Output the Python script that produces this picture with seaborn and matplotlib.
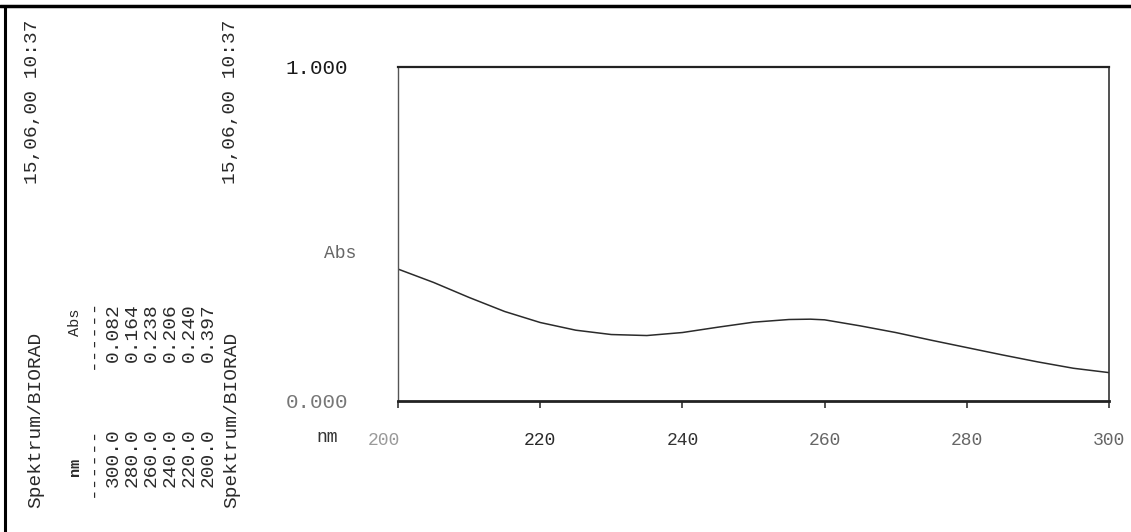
import numpy as np
import pandas as pd
import matplotlib
matplotlib.use('Agg')
import matplotlib.pyplot as plt
import matplotlib.transforms as mtransforms
from matplotlib.lines import Line2D
import seaborn as sns

wavelength = [200, 205, 210, 215, 220, 225, 230, 235, 240, 245, 250,
              255, 258, 260, 265, 270, 275, 280, 285, 290, 295, 300]
absorbance = [0.395, 0.355, 0.310, 0.268, 0.235, 0.212, 0.199, 0.196, 0.205, 0.221, 0.236,
              0.244, 0.245, 0.243, 0.225, 0.205, 0.182, 0.160, 0.138, 0.117, 0.098, 0.085]

table_nm = ['300.0', '280.0', '260.0', '240.0', '220.0', '200.0']
table_abs = ['0.082', '0.164', '0.238', '0.206', '0.240', '0.397']

x_ticks = [200, 220, 240, 260, 280, 300]
x_tick_labels = ['200', '220', '240', '260', '280', '300']
x_tick_colors = ['#9a9a9a', '#2a2a2a', '#333333', '#666666', '#666666', '#666666']
y_ticks = [0, 1]
y_tick_labels = ['0.000', '1.000']
y_tick_colors = ['#777777', '#1a1a1a']
stamp = '15,06,00 10:37'
device = 'Spektrum/BIORAD'

df = pd.DataFrame({'nm': wavelength, 'Abs': absorbance})

sns.set_style('white')
plt.rcParams['font.family'] = ['Liberation Mono', 'DejaVu Sans Mono']

W, H = 1131, 532
fig = plt.figure(figsize=(W / 100, H / 100), dpi=100)
fig.patch.set_facecolor('white')

def fx(px):
    return px / W

def fy(py):
    return 1 - py / H

ax = fig.add_axes([fx(398), fy(401), fx(1109) - fx(398), fy(67) - fy(401)])
ax.set_facecolor('white')

sns.lineplot(data=df, x='nm', y='Abs', ax=ax, color='#2b2b2b', linewidth=1.1)

ax.set_xlim(200, 300)
ax.set_ylim(0, 1)
ax.set_xlabel('')
ax.set_ylabel('')

# --- ejes estilo impresora ---
for side, lw, col in [('left', 1.0, '#555555'), ('right', 1.2, '#333333'),
                      ('top', 1.6, '#222222'), ('bottom', 2.0, '#222222')]:
    ax.spines[side].set_visible(True)
    ax.spines[side].set_linewidth(lw)
    ax.spines[side].set_color(col)

ax.set_xticks(x_ticks)
ax.set_xticklabels(x_tick_labels, fontsize=13)
ax.tick_params(axis='x', direction='out', length=5, width=1.2, color='#333333',
               pad=17, bottom=True)
for lab, col in zip(ax.get_xticklabels(), x_tick_colors):
    lab.set_color(col)
first = ax.get_xticklabels()[0]
first.set_transform(first.get_transform() +
                    mtransforms.ScaledTranslation(-14 / 100, 0, fig.dpi_scale_trans))

ax.set_yticks(y_ticks)
ax.set_yticklabels(y_tick_labels, fontsize=15)
ax.tick_params(axis='y', length=0, pad=36, left=True)
for lab, col in zip(ax.get_yticklabels(), y_tick_colors):
    lab.set_color(col)

# etiquetas de los ejes
fig.text(fx(340), fy(253), 'Abs', fontsize=13, color='#666666', ha='center', va='center')
fig.text(fx(327), fy(437), 'nm', fontsize=13, color='#333333', ha='center', va='center')

# --- cabecera girada a la izquierda ---
rot = dict(rotation=90, ha='center', va='center', color='#2a2a2a')
fig.text(fx(33), fy(102), stamp, fontsize=14, **rot)
fig.text(fx(231), fy(102), stamp, fontsize=14, **rot)
fig.text(fx(36), fy(420), device, fontsize=14, **rot)
fig.text(fx(232), fy(420), device, fontsize=14, **rot)
fig.text(fx(75), fy(467), 'nm', fontsize=11, fontweight='bold', **rot)
fig.text(fx(75), fy(322), 'Abs', fontsize=11, **rot)
fig.text(fx(93), fy(462), '------', fontsize=14, **rot)
fig.text(fx(93), fy(334), '------', fontsize=14, **rot)
for i, (a, b) in enumerate(zip(table_nm, table_abs)):
    xp = 113 + i * 19
    fig.text(fx(xp), fy(458), a, fontsize=14, **rot)
    fig.text(fx(xp), fy(333), b, fontsize=14, **rot)

# marco del papel
fig.add_artist(Line2D([0, 1], [fy(6), fy(6)], color='black', linewidth=2.5))
fig.add_artist(Line2D([fx(5), fx(5)], [0, fy(6)], color='black', linewidth=2.2))

fig.savefig('out.png', dpi=100, facecolor='white')
